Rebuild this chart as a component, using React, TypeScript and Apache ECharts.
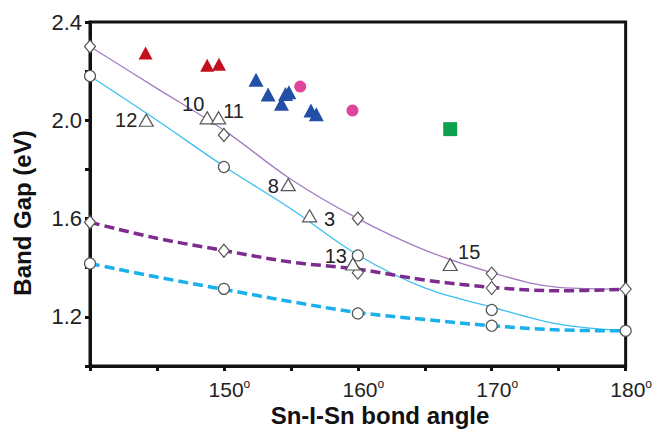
import React, { useEffect, useRef } from "react";
import * as echarts from "echarts";

// ---- data ----
const fitAngles = [140, 145, 150, 155, 160, 165, 170, 175, 180];
const purpleSolid = [2.3, 2.13, 1.96, 1.76, 1.6, 1.472, 1.38, 1.32, 1.313];
const cyanSolid = [2.18, 2.0, 1.813, 1.64, 1.452, 1.318, 1.24, 1.17, 1.143];
const purpleDashed = [1.585, 1.52, 1.47, 1.423, 1.394, 1.35, 1.32, 1.306, 1.312];
const cyanDashed = [1.417, 1.362, 1.312, 1.262, 1.218, 1.189, 1.164, 1.147, 1.143];

const diamondAngles = [140, 150, 160, 170, 180, 140, 150, 160, 170];
const diamondGaps = [2.3, 1.94, 1.6, 1.376, 1.313, 1.585, 1.469, 1.38, 1.317];
const circleAngles = [140, 150, 160, 170, 180, 140, 150, 160, 170];
const circleGaps = [2.18, 1.81, 1.45, 1.228, 1.143, 1.417, 1.314, 1.214, 1.164];

const openTriLabels = ["12", "10", "11", "8", "3", "13", "15"];
const openTriAngles = [144.2, 148.75, 149.6, 154.8, 156.4, 159.63, 166.9];
const openTriGaps = [2.0, 2.01, 2.01, 1.738, 1.611, 1.415, 1.413];

const redAngles = [144.15, 148.75, 149.63];
const redGaps = [2.274, 2.224, 2.228];
const blueAngles = [152.4, 153.3, 154.3, 154.6, 154.85, 156.5, 156.9];
const blueGaps = [2.165, 2.105, 2.067, 2.107, 2.114, 2.04, 2.025];
const pinkAngles = [155.7, 159.6];
const pinkGaps = [2.137, 2.04];
const greenAngles = [166.9];
const greenGaps = [1.964];

const xTickLabels = ["150", "160", "170", "180"];
const yTickLabels = ["1.2", "1.6", "2.0", "2.4"];

// label placement (layout only)
const labelOffsets: Record<string, number[]> = {
  "12": [-20, 0],
  "10": [-14, -14],
  "11": [15, -7],
  "8": [-15, 1],
  "3": [20, 3],
  "13": [-17, -8],
  "15": [19, -13],
};

const FONT = "'Liberation Sans', Arial, Helvetica, sans-serif";

const pairs = (xs: number[], ys: number[]) => xs.map((x, i) => [x, ys[i]]);

export default function App() {
  const ref = useRef<HTMLDivElement>(null);
  useEffect(() => {
    if (!ref.current) return;
    const chart = echarts.init(ref.current, undefined, { renderer: "svg" });
    const fitLine = (name: string, ys: number[], color: string, width: number, dashed: boolean) => ({
      name,
      type: "line",
      data: pairs(fitAngles, ys),
      smooth: 0.35,
      showSymbol: false,
      symbol: "none",
      silent: true,
      z: 2,
      lineStyle: { color, width, type: dashed ? [10, 5] : "solid" },
    });
    const filled = (name: string, xs: number[], ys: number[], symbol: string, size: any, color: string) => ({
      name,
      type: "scatter",
      data: pairs(xs, ys),
      symbol,
      symbolSize: size,
      z: 5,
      itemStyle: { color, opacity: 1 },
    });
    chart.setOption({
      animation: false,
      backgroundColor: "#ffffff",
      grid: {
        left: 90,
        right: 29,
        top: 22,
        bottom: 66,
        show: true,
        borderColor: "#111",
        borderWidth: 3,
        backgroundColor: "transparent",
      },
      xAxis: {
        type: "value",
        min: 140,
        max: 180,
        interval: 5,
        splitLine: { show: false },
        axisLine: { show: true, lineStyle: { color: "#111", width: 3 } },
        axisTick: { show: true, inside: false, length: 5, lineStyle: { color: "#111", width: 3 } },
        axisLabel: {
          margin: 12,
          padding: [0, 0, 0, 11],
          formatter: (v: number) => {
            const s = String(Math.round(v));
            return xTickLabels.includes(s) ? `{n|${s}}{s|o}` : "";
          },
          rich: {
            n: { fontSize: 21, fontFamily: FONT, color: "#222", lineHeight: 22 },
            s: { fontSize: 12, fontFamily: FONT, color: "#222", verticalAlign: "top", lineHeight: 12 },
          },
        },
      },
      yAxis: {
        type: "value",
        min: 1.0,
        max: 2.4,
        interval: 0.2,
        splitLine: { show: false },
        axisLine: { show: true, lineStyle: { color: "#111", width: 3 } },
        axisTick: { show: true, inside: false, length: 5, lineStyle: { color: "#111", width: 3 } },
        axisLabel: {
          margin: 8,
          fontSize: 22,
          fontFamily: FONT,
          color: "#222",
          formatter: (v: number) => {
            const s = (Math.round(v * 10) / 10).toFixed(1);
            return yTickLabels.includes(s) ? s : "";
          },
        },
      },
      graphic: [
        {
          type: "text",
          x: 22,
          y: 213,
          rotation: Math.PI / 2,
          style: {
            text: "Band Gap (eV)",
            font: `bold 24px ${FONT}`,
            fill: "#111",
            align: "center",
            verticalAlign: "middle",
          },
        },
        {
          type: "text",
          x: 380,
          y: 415,
          style: {
            text: "Sn-I-Sn bond angle",
            font: `bold 24px ${FONT}`,
            fill: "#111",
            align: "center",
            verticalAlign: "middle",
          },
        },
      ],
      series: [
        fitLine("purple fit", purpleSolid, "#a47cc4", 1.3, false),
        fitLine("cyan fit", cyanSolid, "#3cc0ef", 1.3, false),
        fitLine("purple dashed", purpleDashed, "#7e2b8e", 3.5, true),
        fitLine("cyan dashed", cyanDashed, "#19b1ec", 3.5, true),
        {
          name: "diamonds",
          type: "scatter",
          data: pairs(diamondAngles, diamondGaps),
          symbol: "diamond",
          symbolSize: [11, 13],
          z: 4,
          itemStyle: { color: "#ffffff", borderColor: "#555", borderWidth: 1.2, opacity: 1 },
        },
        {
          name: "circles",
          type: "scatter",
          data: pairs(circleAngles, circleGaps),
          symbol: "circle",
          symbolSize: 11,
          z: 4,
          itemStyle: { color: "#ffffff", borderColor: "#555", borderWidth: 1.2, opacity: 1 },
        },
        {
          name: "open triangles",
          type: "scatter",
          data: openTriAngles.map((x, i) => ({
            value: [x, openTriGaps[i]],
            label: {
              show: true,
              formatter: openTriLabels[i],
              position: "inside",
              offset: labelOffsets[openTriLabels[i]],
            },
          })),
          symbol: "triangle",
          symbolSize: [14, 12],
          z: 4,
          itemStyle: { color: "#ffffff", borderColor: "#555", borderWidth: 1.2, opacity: 1 },
          label: { fontSize: 20, fontFamily: FONT, color: "#222" },
        },
        filled("red", redAngles, redGaps, "triangle", [14, 13], "#c3101f"),
        filled("blue", blueAngles, blueGaps, "triangle", [15, 14], "#234fa6"),
        filled("pink", pinkAngles, pinkGaps, "circle", 12, "#e1449c"),
        filled("green", greenAngles, greenGaps, "rect", 14, "#0fa24e"),
      ],
    });
    return () => chart.dispose();
  }, []);
  return (
    <div
      ref={ref}
      style={{ position: "fixed", left: 0, top: 0, width: 655, height: 432, background: "#fff" }}
    />
  );
}
